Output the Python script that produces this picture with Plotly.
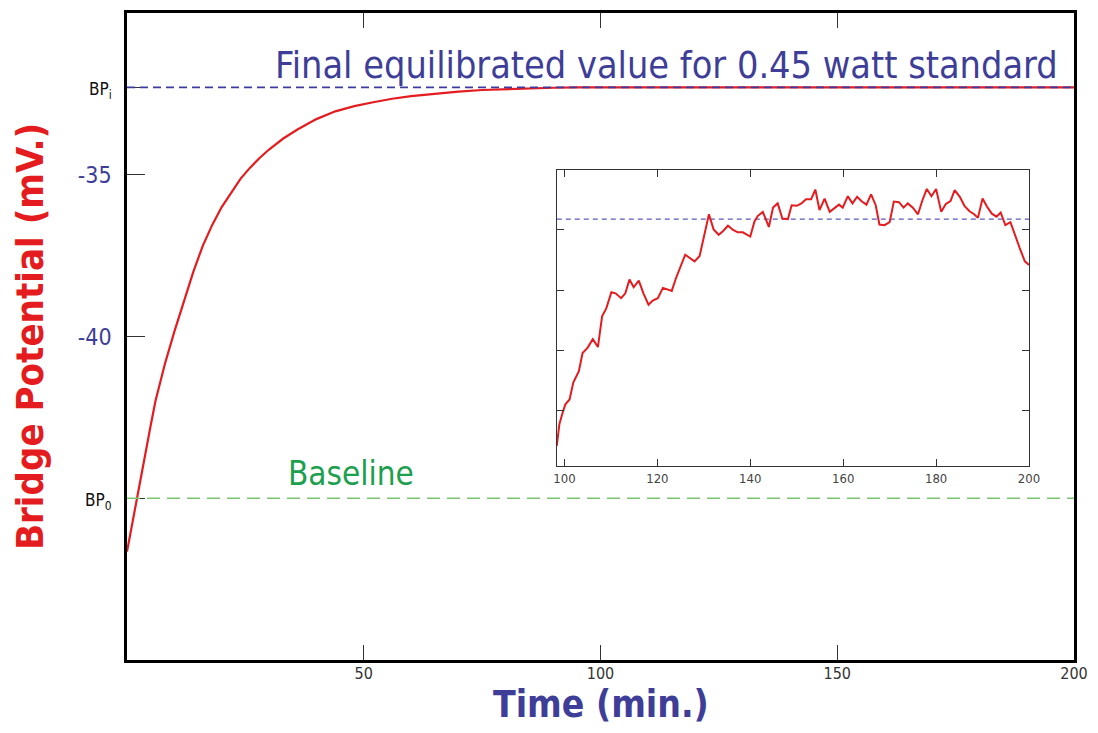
import plotly.graph_objects as go

# ---- data ----
main_time = [0, 1, 2, 3, 4, 5, 6, 8, 10, 12, 14, 16, 18, 20, 22, 24, 26, 28, 30, 33, 36,
             40, 44, 48, 52, 56, 60, 65, 70, 75, 80, 85, 90, 95, 100, 125, 150, 175, 200]
main_bp = [-46.65, -45.85, -45.08, -44.3, -43.5, -42.75, -42.0, -40.85, -39.85, -38.9, -38.0,
           -37.2, -36.55, -36.0, -35.55, -35.12, -34.78, -34.48, -34.22, -33.88, -33.6,
           -33.28, -33.04, -32.88, -32.76, -32.65, -32.57, -32.49, -32.43, -32.38, -32.35,
           -32.33, -32.31, -32.3, -32.3, -32.3, -32.3, -32.3, -32.3]

BP_I = -32.3    # final equilibrated value
BP_0 = -45.0    # baseline

y_tickvals = [BP_0, -40, -35, BP_I]
y_ticktext = ['<span style="font-size:17px;color:#111">BP<sub>0</sub></span>', '-40', '-35',
              '<span style="font-size:17px;color:#111">BP<sub>i</sub></span>']
x_tickvals = [50, 100, 150, 200]

inset_time = [98.35, 98.9, 99.6, 100.2, 101.1, 101.9, 103.1, 103.9, 105.0, 106.1, 107.2, 108.1,
              109.0, 110.1, 111.0, 112.2, 113.1, 114.0, 114.9, 116.0, 117.0, 118.1, 119.0, 120.1,
              121.2, 122.1, 123.1, 124.0, 124.9, 126.0, 126.9, 128.0, 129.1, 130.2, 131.1, 132.1,
              133.2, 134.1, 135.2, 136.3, 137.3, 138.4, 139.1, 140.0, 140.9, 141.6, 142.7, 144.0,
              144.9, 145.9, 146.9, 148.1, 148.9, 150.0, 151.0, 152.0, 153.1, 154.0, 154.9, 156.0,
              157.1, 158.1, 159.1, 159.9, 161.0, 162.0, 163.0, 163.9, 165.0, 166.0, 167.0, 167.8,
              168.9, 170.0, 170.9, 172.0, 173.0, 173.9, 175.0, 176.1, 177.0, 178.0, 179.0, 180.0,
              181.1, 182.1, 183.1, 184.0, 185.1, 186.1, 187.2, 188.2, 189.0, 190.0, 191.0, 192.0,
              193.0, 193.9, 194.9, 196.0, 196.9, 198.0, 199.1, 200.0]
inset_val = [-0.58, -0.22, -0.03, 0.11, 0.19, 0.47, 0.66, 0.96, 1.05, 1.19, 1.06, 1.57,
             1.70, 1.97, 1.95, 1.87, 1.95, 2.18, 2.05, 2.16, 1.95, 1.76, 1.83, 1.87,
             2.04, 2.02, 1.99, 2.20, 2.39, 2.59, 2.54, 2.48, 2.57, 2.97, 3.26, 3.01,
             2.92, 2.98, 3.07, 3.00, 2.96, 2.96, 2.93, 2.89, 3.14, 3.23, 3.30, 3.05,
             3.37, 3.44, 3.19, 3.18, 3.41, 3.40, 3.44, 3.51, 3.51, 3.67, 3.33, 3.52,
             3.30, 3.36, 3.42, 3.37, 3.56, 3.44, 3.55, 3.48, 3.42, 3.59, 3.41, 3.09,
             3.08, 3.13, 3.47, 3.46, 3.37, 3.44, 3.37, 3.26, 3.48, 3.68, 3.56, 3.68,
             3.30, 3.43, 3.48, 3.66, 3.55, 3.40, 3.31, 3.26, 3.20, 3.52, 3.38, 3.27,
             3.22, 3.29, 3.08, 3.13, 2.92, 2.70, 2.48, 2.42]
INSET_EQ = 3.18
inset_xticks = [100, 120, 140, 160, 180, 200]
inset_yticks = [0, 1, 2, 3]

RED = "rgb(228,28,32)"
BLUE = "rgb(62,62,152)"
COND = "DejaVu Sans Condensed, DejaVu Sans, sans-serif"

fig = go.Figure()
fig.add_trace(go.Scatter(x=main_time, y=main_bp, mode="lines",
                         line=dict(color=RED, width=2.2), xaxis="x", yaxis="y",
                         showlegend=False, hoverinfo="skip"))
# inset equilibrium line (drawn before the red inset curve)
fig.add_trace(go.Scatter(x=[inset_time[0], inset_time[-1]], y=[INSET_EQ, INSET_EQ], mode="lines",
                         line=dict(color="rgb(90,90,190)", width=1.3, dash="5px,4px"),
                         xaxis="x2", yaxis="y2", showlegend=False, hoverinfo="skip"))
fig.add_trace(go.Scatter(x=inset_time, y=inset_val, mode="lines",
                         line=dict(color=RED, width=2), xaxis="x2", yaxis="y2",
                         showlegend=False, hoverinfo="skip"))

# reference lines
fig.add_shape(type="line", xref="x domain", yref="y", x0=0, x1=1, y0=BP_I, y1=BP_I,
              line=dict(color="rgb(60,60,160)", width=1.7, dash="8px,5px"), layer="above")
fig.add_shape(type="line", xref="x domain", yref="y", x0=0, x1=1, y0=BP_0, y1=BP_0,
              line=dict(color="rgb(120,200,110)", width=1.3, dash="13px,7px"), layer="above")

fig.add_annotation(text="Final equilibrated value for 0.45 watt standard", xref="x", yref="y",
                   x=197, y=BP_I, xanchor="right", yanchor="bottom", yshift=-2,
                   showarrow=False, font=dict(family=COND, size=37.5, color=BLUE))
fig.add_annotation(text="Baseline", xref="x", yref="y",
                   x=47.3, y=BP_0, xanchor="center", yanchor="bottom", yshift=3,
                   showarrow=False, font=dict(family=COND, size=33, color="rgb(28,160,78)"))
# x-axis title
fig.add_annotation(text="<b>Time (min.)</b>", xref="paper", yref="paper",
                   x=0.5, y=-0.034, xanchor="center", yanchor="top", showarrow=False,
                   borderpad=0, font=dict(family=COND, size=37, color=BLUE))

# the page body has an 8px margin: size/offset the figure so the plot sits where it should
fig.update_layout(
    width=1082, height=717,
    margin=dict(l=119, r=15, t=2, b=65),
    paper_bgcolor="white", plot_bgcolor="white",
    showlegend=False,
    xaxis=dict(range=[0, 200], tickvals=x_tickvals, ticks="inside", ticklen=15,
               tickcolor="#333", tickwidth=1, showline=True, linecolor="black", linewidth=2.5,
               mirror="ticks", showgrid=False, zeroline=False, ticklabelstandoff=-3,
               tickfont=dict(family=COND, size=16, color="#333")),
    yaxis=dict(range=[-50, -30], tickvals=y_tickvals, ticktext=y_ticktext, ticks="inside",
               ticklen=18, tickcolor="#333", tickwidth=1, showline=True, linecolor="black",
               linewidth=2.5, mirror=True, showgrid=False, zeroline=False,
               ticklabelstandoff=8,
               tickfont=dict(family=COND, size=23, color=BLUE),
               title=dict(text="<b>Bridge Potential (mV.)</b>", standoff=24,
                          font=dict(family=COND, size=38, color=RED))),
    xaxis2=dict(domain=[0.4536, 0.9525], anchor="y2", range=[98.3, 200], tickvals=inset_xticks,
                ticks="inside", ticklen=7, tickcolor="#333", showline=True, linecolor="#333",
                linewidth=1.2, mirror="ticks", showgrid=False, zeroline=False,
                tickfont=dict(family=COND, size=13, color="#444")),
    yaxis2=dict(domain=[0.30, 0.757], anchor="x2", range=[-0.91, 3.99], tickvals=inset_yticks,
                showticklabels=False, ticks="inside", ticklen=7, tickcolor="#333",
                showline=True, linecolor="#333", linewidth=1.2, mirror="ticks",
                showgrid=False, zeroline=False),
)

fig.write_html("out.html")
